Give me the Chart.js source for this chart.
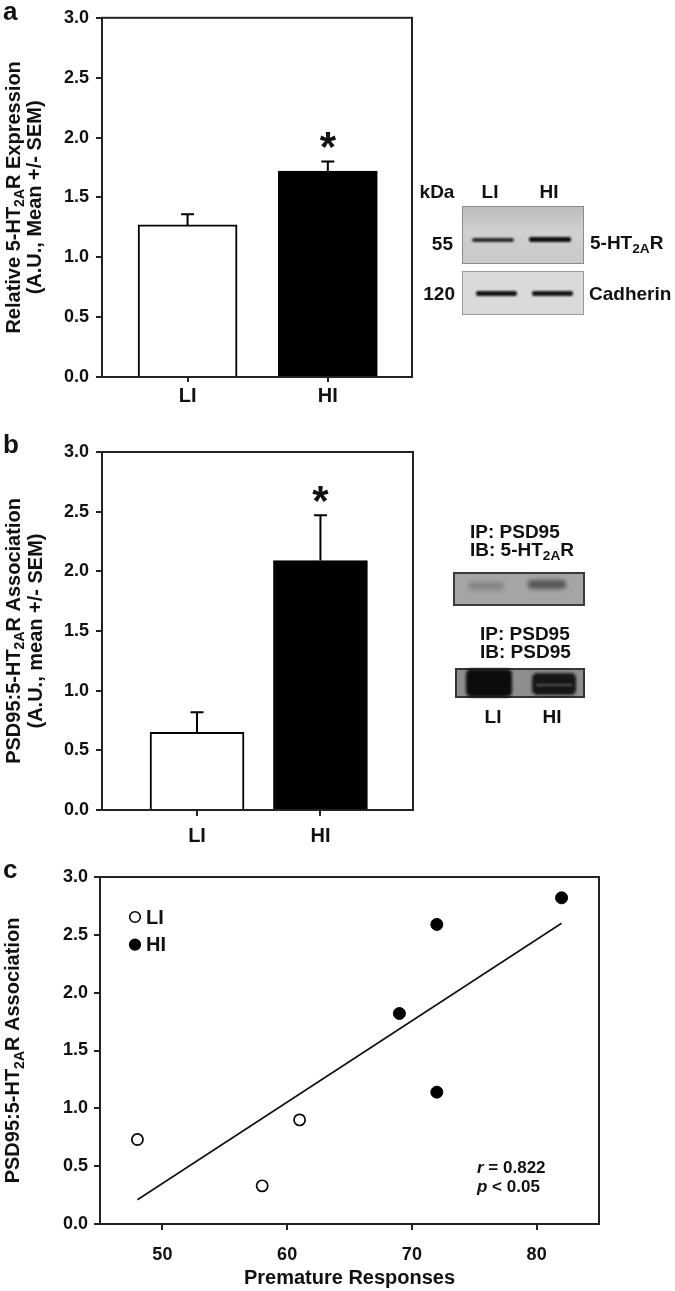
<!DOCTYPE html>
<html>
<head>
<meta charset="utf-8">
<script src="https://cdn.jsdelivr.net/npm/chart.js@4.4.1/dist/chart.umd.min.js"></script>
<style>
    body { margin: 0; background: #fff; }
    #page { position: relative; width: 675px; height: 1291px; overflow: hidden;
            font-family: "Liberation Sans", Arial, sans-serif; font-weight: bold; color: #111; }
    canvas { position: absolute; left: 0; }
    .t { position: absolute; white-space: nowrap; }
    .t sub { font-size: 0.72em; vertical-align: -0.32em; line-height: 0; }
    .blot { position: absolute; box-sizing: border-box; overflow: hidden; }
    .band { position: absolute; }
</style>
</head>
<body>
<div id="page">
    <canvas id="chartA" width="675" height="420" style="top:0px"></canvas>
    <canvas id="chartB" width="675" height="430" style="top:420px"></canvas>
    <canvas id="chartC" width="675" height="441" style="top:850px"></canvas>
</div>
<script>
// ---- data ----
const groups = ["LI", "HI"];
const groupPos = [1, 2];
const barColors = ["#ffffff", "#000000"];
const expressionMean = [1.27, 1.72];   // panel a
const expressionSem = [0.09, 0.08];
const associationMean = [0.65, 2.09];  // panel b
const associationSem = [0.17, 0.38];
const yTickValues = [0, 0.5, 1, 1.5, 2, 2.5, 3];

const liResponses = [48, 58, 61];      // panel c
const liAssociation = [0.73, 0.33, 0.9];
const hiResponses = [69, 72, 72, 82];
const hiAssociation = [1.82, 1.14, 2.59, 2.82];
const fitResponses = [48, 82];
const fitAssociation = [0.21, 2.6];
const responseTicks = [50, 60, 70, 80];

const family = "'Liberation Sans', Arial, sans-serif";
Chart.defaults.font.family = family;
Chart.defaults.font.weight = "bold";
Chart.defaults.color = "#111";

const page = document.getElementById("page");

// text placed by its baseline
function addText(html, x, baseline, size, align) {
    const el = document.createElement("div");
    el.className = "t";
    el.innerHTML = html;
    el.style.fontSize = size + "px";
    el.style.lineHeight = size + "px";
    el.style.top = (baseline - 0.8465 * size) + "px";
    if (align === "center") {
        el.style.left = x + "px";
        el.style.transform = "translateX(-50%)";
    } else if (align === "right") {
        el.style.right = (675 - x) + "px";
    } else {
        el.style.left = x + "px";
    }
    page.appendChild(el);
}

function addBox(cls, x, y, w, h, css) {
    const el = document.createElement("div");
    el.className = cls;
    el.style.left = x + "px";
    el.style.top = y + "px";
    el.style.width = w + "px";
    el.style.height = h + "px";
    Object.assign(el.style, css);
    page.appendChild(el);
    return el;
}

// rotated y-axis title with a subscript
function richTitle(lines) {
    return {
        id: "richTitle",
        afterDraw(chart) {
            const ctx = chart.ctx;
            const cy = (chart.chartArea.top + chart.chartArea.bottom) / 2;
            ctx.save();
            ctx.fillStyle = "#111";
            ctx.textBaseline = "alphabetic";
            lines.forEach(function (line) {
                const widths = line.parts.map(function (p) {
                    ctx.font = "bold " + (p[1] ? 14 : 20) + "px " + family;
                    return ctx.measureText(p[0]).width;
                });
                const total = widths.reduce((a, b) => a + b, 0);
                ctx.save();
                ctx.translate(line.x, cy);
                ctx.rotate(-Math.PI / 2);
                let cx = -total / 2;
                line.parts.forEach(function (p, i) {
                    ctx.font = "bold " + (p[1] ? 14 : 20) + "px " + family;
                    ctx.fillText(p[0], cx, p[1] ? 4.5 : 0);
                    cx += widths[i];
                });
                ctx.restore();
            });
            ctx.restore();
        },
    };
}

const frame = {
    id: "frame",
    afterDraw(chart) {
        const a = chart.chartArea;
        const ctx = chart.ctx;
        ctx.save();
        ctx.strokeStyle = "#222";
        ctx.lineWidth = 2;
        ctx.strokeRect(a.left, a.top, a.right - a.left, a.bottom - a.top);
        ctx.restore();
    },
};

function errorBars(means, sems, capHalf) {
    return {
        id: "errorBars",
        afterDatasetsDraw(chart) {
            const ctx = chart.ctx;
            const x = chart.scales.x;
            const y = chart.scales.y;
            ctx.save();
            ctx.strokeStyle = "#000";
            ctx.lineWidth = 2;
            means.forEach(function (m, i) {
                const px = x.getPixelForValue(groupPos[i]);
                const base = y.getPixelForValue(m);
                const top = y.getPixelForValue(m + sems[i]);
                ctx.beginPath();
                ctx.moveTo(px, base);
                ctx.lineTo(px, top);
                ctx.moveTo(px - capHalf, top);
                ctx.lineTo(px + capHalf, top);
                ctx.stroke();
            });
            // significance star above the HI bar
            const i = 1;
            const px = x.getPixelForValue(groupPos[i]);
            const center = y.getPixelForValue(means[i] + sems[i]) - 21;
            ctx.font = "bold 42px " + family;
            ctx.fillStyle = "#111";
            ctx.textAlign = "center";
            ctx.textBaseline = "alphabetic";
            const m = ctx.measureText("*");
            const base = center + (m.actualBoundingBoxAscent - m.actualBoundingBoxDescent) / 2;
            ctx.fillText("*", px, base);
            ctx.restore();
        },
    };
}

function barChart(id, means, sems, opt) {
    return new Chart(document.getElementById(id), {
        type: "bar",
        data: {
            datasets: [{
                data: groupPos.map((p, i) => ({ x: p, y: means[i] })),
                backgroundColor: barColors,
                borderColor: "#000",
                borderWidth: 2,
                barThickness: opt.barWidth,
            }],
        },
        options: {
            responsive: false,
            animation: false,
            events: [],
            layout: { padding: opt.padding },
            plugins: { legend: { display: false }, tooltip: { enabled: false } },
            scales: {
                x: {
                    type: "linear",
                    min: opt.xMin,
                    max: opt.xMax,
                    offset: false,
                    afterBuildTicks: (s) => { s.ticks = groupPos.map((v) => ({ value: v })); },
                    afterFit: (s) => { s.height = 40; },
                    ticks: {
                        callback: (v) => groups[groupPos.indexOf(v)],
                        font: { size: 20 },
                        padding: opt.xPad,
                        maxRotation: 0,
                    },
                    grid: { offset: false, drawOnChartArea: false, tickLength: opt.xTick, color: "#222", lineWidth: 2 },
                    border: { display: false },
                },
                y: {
                    min: 0,
                    max: 3,
                    afterBuildTicks: (s) => { s.ticks = yTickValues.map((v) => ({ value: v })); },
                    afterFit: (s) => { s.width = 102; },
                    ticks: { callback: (v) => v.toFixed(1), font: { size: 18 }, padding: 7 },
                    grid: { drawOnChartArea: false, tickLength: 6, color: "#222", lineWidth: 2 },
                    border: { display: false },
                },
            },
        },
        plugins: [frame, errorBars(means, sems, opt.capHalf), richTitle(opt.title)],
    });
}

barChart("chartA", expressionMean, expressionSem, {
    xMin: 0.39, xMax: 2.6, barWidth: 99, capHalf: 6.5, xTick: 5, xPad: 2,
    padding: { left: 0, top: 17, right: 263, bottom: 3 },
    title: [
        { x: 19.5, parts: [["Relative 5-HT", 0], ["2A", 1], ["R Expression", 0]] },
        { x: 41, parts: [["(A.U., Mean +/- SEM)", 0]] },
    ],
});

barChart("chartB", associationMean, associationSem, {
    xMin: 0.23, xMax: 2.75, barWidth: 94, capHalf: 6.5, xTick: 6, xPad: 8,
    padding: { left: 0, top: 32, right: 262, bottom: 0 },
    title: [
        { x: 19.5, parts: [["PSD95:5-HT", 0], ["2A", 1], ["R Association", 0]] },
        { x: 42, parts: [["(A.U., mean +/- SEM)", 0]] },
    ],
});

// legend drawn inside the plot, top-left
const legendInside = {
    id: "legendInside",
    afterDraw(chart) {
        const ctx = chart.ctx;
        const a = chart.chartArea;
        ctx.save();
        chart.data.datasets.slice(0, 2).forEach(function (ds, i) {
            const cx = a.left + 35;
            const cy = a.top + 40 + i * 27.6;
            ctx.beginPath();
            ctx.arc(cx, cy, 5.3, 0, Math.PI * 2);
            ctx.fillStyle = ds.pointBackgroundColor;
            ctx.fill();
            ctx.lineWidth = 1.6;
            ctx.strokeStyle = ds.pointBorderColor;
            ctx.stroke();
            ctx.fillStyle = "#111";
            ctx.font = "bold 20px " + family;
            ctx.textBaseline = "middle";
            ctx.fillText(ds.label, cx + 11, cy + 1);
        });
        ctx.restore();
    },
};

new Chart(document.getElementById("chartC"), {
    type: "scatter",
    data: {
        datasets: [
            {
                label: "LI",
                data: liResponses.map((x, i) => ({ x: x, y: liAssociation[i] })),
                pointRadius: 5.6,
                pointBackgroundColor: "#ffffff",
                pointBorderColor: "#000000",
                pointBorderWidth: 1.7,
            },
            {
                label: "HI",
                data: hiResponses.map((x, i) => ({ x: x, y: hiAssociation[i] })),
                pointRadius: 6,
                pointBackgroundColor: "#000000",
                pointBorderColor: "#000000",
                pointBorderWidth: 1,
            },
            {
                label: "fit",
                data: fitResponses.map((x, i) => ({ x: x, y: fitAssociation[i] })),
                showLine: true,
                pointRadius: 0,
                borderColor: "#111",
                borderWidth: 1.6,
            },
        ],
    },
    options: {
        responsive: false,
        animation: false,
        events: [],
        layout: { padding: { left: 0, top: 27, right: 76, bottom: 1 } },
        plugins: { legend: { display: false }, tooltip: { enabled: false } },
        scales: {
            x: {
                type: "linear",
                min: 45,
                max: 85,
                afterBuildTicks: (s) => { s.ticks = responseTicks.map((v) => ({ value: v })); },
                afterFit: (s) => { s.height = 66; },
                ticks: { font: { size: 18 }, padding: 14, maxRotation: 0 },
                grid: { drawOnChartArea: false, tickLength: 6, color: "#222", lineWidth: 2 },
                border: { display: false },
                title: { display: true, text: "Premature Responses", font: { size: 20 }, padding: 0 },
            },
            y: {
                min: 0,
                max: 3,
                afterBuildTicks: (s) => { s.ticks = yTickValues.map((v) => ({ value: v })); },
                afterFit: (s) => { s.width = 100; },
                ticks: { callback: (v) => v.toFixed(1), font: { size: 18 }, padding: 6 },
                grid: { drawOnChartArea: false, tickLength: 6, color: "#222", lineWidth: 2 },
                border: { display: false },
            },
        },
    },
    plugins: [frame, legendInside, richTitle([
        { x: 19, parts: [["PSD95:5-HT", 0], ["2A", 1], ["R Association", 0]] },
    ])],
});

// ---- panel letters and annotations ----
addText("a", 3, 20, 26, "left");
addText("b", 3, 453, 26, "left");
addText("c", 3, 878, 26, "left");
addText("<i>r</i> = 0.822", 477, 1173, 17, "left");
addText("<i>p</i> &lt; 0.05", 477, 1192, 17, "left");

// ---- western blot, panel a ----
addText("kDa", 437, 198, 19, "center");
addText("LI", 490, 198, 19, "center");
addText("HI", 549, 198, 19, "center");
addText("55", 453, 250, 19, "right");
addText("120", 455, 300, 19, "right");
addText("5-HT<sub>2A</sub>R", 590, 249, 19, "left");
addText("Cadherin", 589, 300, 19, "left");
addBox("blot", 462, 206, 122, 58, { background: "linear-gradient(180deg,#bcbcbc 0%,#d0d0d0 45%,#c8c8c8 100%)", border: "1px solid #8c8c8c" });
addBox("band", 472, 238, 42, 4, { background: "#2a2a2a", borderRadius: "2px", filter: "blur(0.8px)" });
addBox("band", 529, 237, 42, 5, { background: "#0d0d0d", borderRadius: "2px", filter: "blur(0.8px)" });
addBox("blot", 462, 271, 122, 44, { background: "#dadada", border: "1px solid #9a9a9a" });
addBox("band", 476, 291, 41, 5, { background: "#111", borderRadius: "2px", filter: "blur(0.8px)" });
addBox("band", 532, 291, 41, 4.5, { background: "#161616", borderRadius: "2px", filter: "blur(0.8px)" });

// ---- co-immunoprecipitation, panel b ----
addText("IP: PSD95", 470, 538.5, 19, "left");
addText("IB: 5-HT<sub>2A</sub>R", 470, 556.5, 19, "left");
addText("IP: PSD95", 480, 640, 19, "left");
addText("IB: PSD95", 480, 658, 19, "left");
addText("LI", 493, 723, 19, "center");
addText("HI", 552, 723, 19, "center");
addBox("blot", 453, 572, 132, 34, { background: "#a5a5a5", border: "2px solid #3a3a3a" });
addBox("band", 468, 582, 36, 8, { background: "rgba(90,90,90,0.45)", borderRadius: "4px", filter: "blur(2.5px)" });
addBox("band", 528, 580, 38, 9, { background: "rgba(60,60,60,0.75)", borderRadius: "4px", filter: "blur(2px)" });
addBox("blot", 455, 668, 130, 30, { background: "#8e8e8e", border: "2px solid #333" });
addBox("band", 466, 669, 46, 28, { background: "#0c0c0c", borderRadius: "5px", filter: "blur(1.5px)" });
addBox("band", 532, 673, 44, 22, { background: "#161616", borderRadius: "5px", filter: "blur(1.5px)" });
addBox("band", 536, 684, 36, 2, { background: "rgba(130,130,130,0.6)", filter: "blur(1px)" });
</script>
</body>
</html>
